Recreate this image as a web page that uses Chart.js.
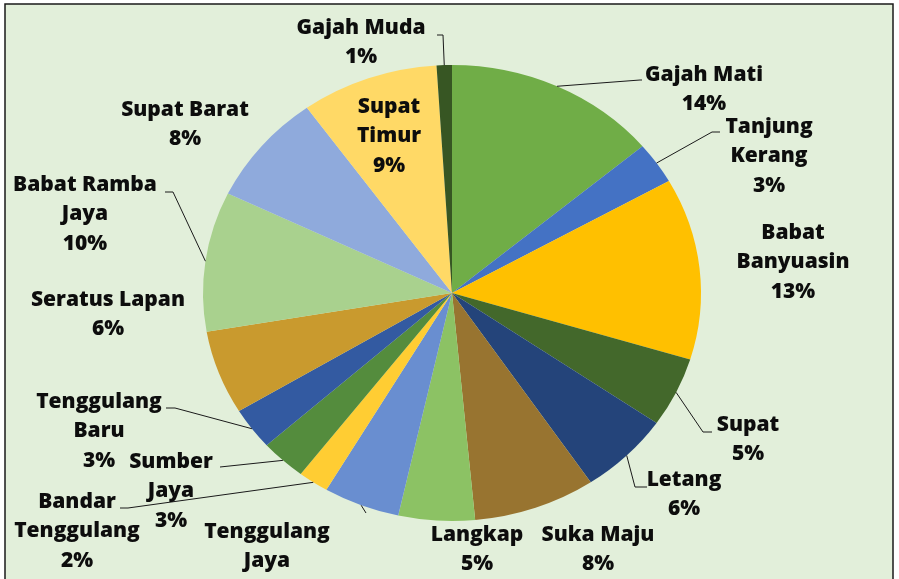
<!doctype html>
<html lang="id">
<head>
<meta charset="utf-8" />
<title>Pie desa</title>
<script src="https://cdn.jsdelivr.net/npm/chart.js@4"></script>
<style>
  html, body { margin: 0; padding: 0; background: #ffffff; }
  #wrap { width: 899px; height: 579px; }
</style>
</head>
<body>
<div id="wrap"><canvas id="myChart" width="899" height="579"></canvas></div>
<script>
// dati (percentuali)
const desa = ["Gajah Mati", "Tanjung Kerang", "Babat Banyuasin", "Supat", "Letang", "Suka Maju",
              "Langkap", "Tenggulang Jaya", "Bandar Tenggulang", "Sumber Jaya", "Tenggulang Baru",
              "Seratus Lapan", "Babat Ramba Jaya", "Supat Barat", "Supat Timur", "Gajah Muda"];
const persen = [14, 3, 13, 5, 6, 8, 5, 5, 2, 3, 3, 6, 10, 8, 9, 1];
const colori = ["#70AD47", "#4472C4", "#FFC000", "#43682B", "#24447A", "#987430",
                "#8CC264", "#698ED0", "#FFCD33", "#548C3D", "#335AA1", "#C99A2E",
                "#A9D18E", "#8FAADC", "#FFD966", "#375623"];

// righe delle etichette, in che punto stanno e come va la linea guida
const righe = [["Gajah Mati"], ["Tanjung", "Kerang"], ["Babat", "Banyuasin"], ["Supat"], ["Letang"], ["Suka Maju"],
               ["Langkap"], ["Tenggulang", "Jaya"], ["Bandar", "Tenggulang"], ["Sumber", "Jaya"], ["Tenggulang", "Baru"],
               ["Seratus Lapan"], ["Babat Ramba", "Jaya"], ["Supat Barat"], ["Supat", "Timur"], ["Gajah Muda"]];
const posEtichette = [[704, 75], [769, 127], [793, 233], [748, 425], [684, 480], [598, 535],
                      [477, 535], [267, 532], [77, 502], [171, 462], [99, 402],
                      [108, 300], [85, 185], [185, 110], [389, 107], [361, 28]];
// punti della linea guida (gomito, fine); null = niente linea
const guide = [[[640, 80], [642, 80]], [[712, 132], [720, 132]], null, [[703, 432], [712, 432]],
               [[635, 487], [647, 487]], null, null, [[366, 513], [366, 513]],
               [[128, 508], [120, 508]], [[220, 467], [220, 467]], [[175, 408], [166, 408]],
               null, [[173, 192], [165, 192]], null, null, [[443, 35], [437, 35]]];

const scalaX = 249 / 228; // la torta originale e' un po' schiacciata

const sfondo = {
    id: 'sfondo',
    beforeDraw(chart) {
        const c = chart.ctx;
        c.save();
        c.fillStyle = '#ffffff';
        c.fillRect(0, 0, chart.width, chart.height);
        c.fillStyle = '#E2EFDA';
        c.fillRect(5, 4, 888, 620);
        c.strokeStyle = '#1a1a1a';
        c.lineWidth = 1.5;
        c.strokeRect(5, 4, 888, 620);
        c.restore();
    }
};

// allunga la torta in orizzontale
const ellisse = {
    id: 'ellisse',
    beforeDatasetsDraw(chart) {
        const a = chart.getDatasetMeta(0).data[0];
        chart.ctx.save();
        chart.ctx.translate(a.x, a.y);
        chart.ctx.scale(scalaX, 1);
        chart.ctx.translate(-a.x, -a.y);
    },
    afterDatasetsDraw(chart) {
        chart.ctx.restore();
    }
};

const etichette = {
    id: 'etichette',
    afterDraw(chart) {
        const c = chart.ctx;
        const archi = chart.getDatasetMeta(0).data;
        const tot = persen.reduce((s, v) => s + v, 0);
        c.save();
        archi.forEach((arco, i) => {
            const p = arco.getProps(['x', 'y', 'startAngle', 'endAngle', 'outerRadius']);
            const mid = (p.startAngle + p.endAngle) / 2;
            if (guide[i]) {
                const x0 = p.x + Math.cos(mid) * p.outerRadius * scalaX;
                const y0 = p.y + Math.sin(mid) * p.outerRadius;
                c.strokeStyle = '#1a1a1a';
                c.lineWidth = 1;
                c.beginPath();
                c.moveTo(x0, y0);
                c.lineTo(guide[i][0][0], guide[i][0][1]);
                c.lineTo(guide[i][1][0], guide[i][1][1]);
                c.stroke();
            }
            const testo = righe[i].concat([Math.round(persen[i] / tot * 100) + '%']);
            c.fillStyle = '#0D0D0D';
            c.font = '800 21px "Open Sans"';
            c.textAlign = 'center';
            c.textBaseline = 'middle';
            testo.forEach((t, k) => {
                c.fillText(t, posEtichette[i][0], posEtichette[i][1] + k * 29.5);
            });
        });
        c.restore();
    }
};

const mychart = new Chart(document.getElementById('myChart'), {
    type: 'pie',
    data: {
        labels: desa,
        datasets: [{
            data: persen,
            backgroundColor: colori,
            borderWidth: 0
        }]
    },
    options: {
        responsive: false,
        animation: false,
        layout: { padding: { top: 65, bottom: 58, left: 224, right: 219 } },
        plugins: {
            legend: { display: false },
            tooltip: { enabled: false }
        }
    },
    plugins: [sfondo, ellisse, etichette]
});
</script>
</body>
</html>
